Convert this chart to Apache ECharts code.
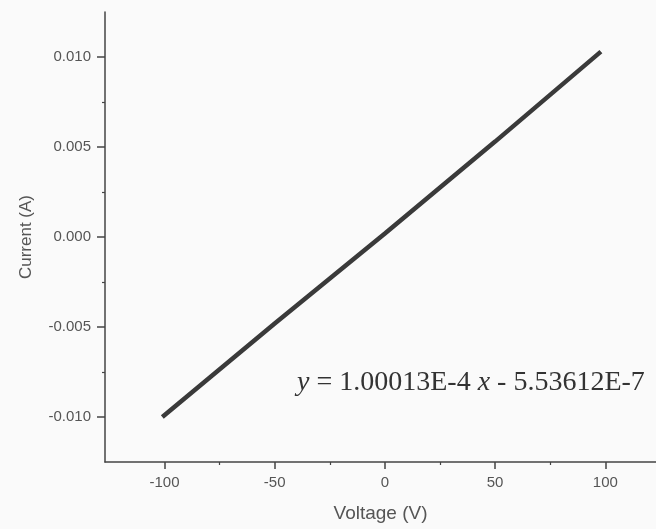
<!DOCTYPE html>
<html>
<head>
<meta charset="utf-8">
<script src="https://cdn.jsdelivr.net/npm/echarts@6/dist/echarts.min.js"></script>
<style>
html,body{margin:0;padding:0;background:#fafafa;}
#chart{width:656px;height:529px;}
</style>
</head>
<body>
<div id="chart"></div>
<script>
// Data
const voltage = [-101, -50, 0, 50, 98];
const current = [-0.0100, -0.0048, 0.0002, 0.0053, 0.0103];
const yMajorTicks = [-0.010, -0.005, 0.000, 0.005, 0.010];
const yMinorTicks = [-0.0075, -0.0025, 0.0025, 0.0075];
const xMajorTicks = [-100, -50, 0, 50, 100];
const xMinorTicks = [-75, -25, 25, 75];
const xTitle = 'Voltage (V)';
const yTitle = 'Current (A)';

const chart = echarts.init(document.getElementById('chart'));
const axisColor = '#444';
const labelColor = '#555';
const font = 'Liberation Sans, Arial, sans-serif';

chart.setOption({
  backgroundColor: '#fafafa',
  animation: false,
  grid: { left: 105, top: 12, right: 0, bottom: 67, containLabel: false },
  xAxis: [{
    type: 'value', min: -127, max: 123,
    axisLine: { show: true, onZero: false, lineStyle: { color: axisColor, width: 1.5 } },
    axisTick: { show: true, customValues: xMajorTicks, length: 7, lineStyle: { color: axisColor, width: 1.5 } },
    axisLabel: { customValues: xMajorTicks, margin: 13, color: labelColor, fontSize: 15, fontFamily: font },
    splitLine: { show: false },
    name: xTitle, nameLocation: 'middle', nameGap: 42,
    nameTextStyle: { color: labelColor, fontSize: 19, fontFamily: font }
  }, {
    type: 'value', min: -127, max: 123, position: 'bottom', offset: 0,
    axisLine: { show: false, onZero: false },
    axisTick: { show: true, customValues: xMinorTicks, length: 3, lineStyle: { color: axisColor, width: 1.2 } },
    axisLabel: { show: false }, splitLine: { show: false }
  }],
  yAxis: [{
    type: 'value', min: -0.0125, max: 0.0125,
    axisLine: { show: true, onZero: false, lineStyle: { color: axisColor, width: 1.5 } },
    axisTick: { show: true, customValues: yMajorTicks, length: 8, lineStyle: { color: axisColor, width: 1.5 } },
    axisLabel: { customValues: yMajorTicks, margin: 14, color: labelColor, fontSize: 15, fontFamily: font,
      formatter: v => v.toFixed(3) },
    splitLine: { show: false },
    name: yTitle, nameLocation: 'middle', nameGap: 70,
    nameTextStyle: { color: labelColor, fontSize: 17, fontFamily: font }
  }, {
    type: 'value', min: -0.0125, max: 0.0125, position: 'left', offset: 0,
    axisLine: { show: false, onZero: false },
    axisTick: { show: true, customValues: yMinorTicks, length: 3, lineStyle: { color: axisColor, width: 1.2 } },
    axisLabel: { show: false }, splitLine: { show: false }
  }],
  series: [{
    type: 'line', xAxisIndex: 0, yAxisIndex: 0,
    data: voltage.map((v, i) => [v, current[i]]),
    showSymbol: false,
    lineStyle: { color: '#3a3a3a', width: 4.5 }
  }],
  graphic: [{
    type: 'text', left: 297, top: 369,
    style: {
      text: '{i|y} = 1.00013E-4 {i|x} - 5.53612E-7',
      fontFamily: 'Liberation Serif, Times New Roman, serif',
      fontSize: 28, fill: '#333',
      rich: { i: { fontStyle: 'italic', fontFamily: 'Liberation Serif, Times New Roman, serif', fontSize: 28, fill: '#333' } }
    }
  }]
});
</script>
</body>
</html>
